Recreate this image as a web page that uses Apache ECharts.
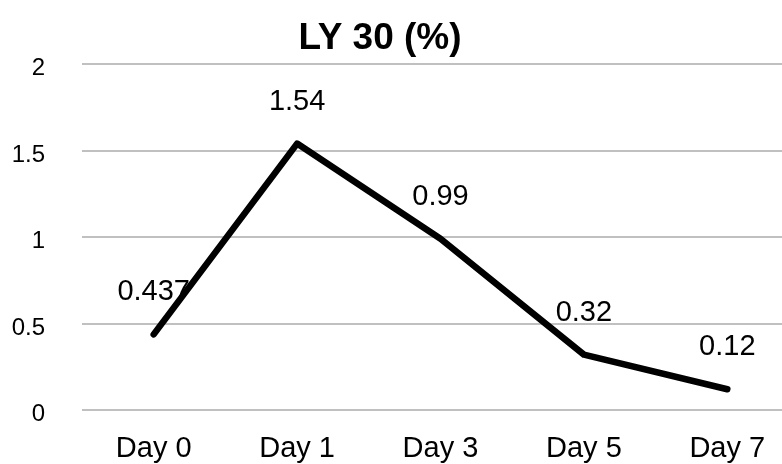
<!DOCTYPE html>
<html>
<head>
<meta charset="utf-8">
<title>LY 30 (%)</title>
<script src="https://cdn.jsdelivr.net/npm/echarts@6/dist/echarts.min.js"></script>
<style>
  html, body { margin: 0; padding: 0; background: #ffffff; overflow: hidden; }
  /* the plot runs a little past the right edge of the view */
  #chart { width: 800px; height: 464px; }
</style>
</head>
<body>
<div id="chart"></div>
<script>
// Time points and measured LY 30 percentages
const days = ['Day 0', 'Day 1', 'Day 3', 'Day 5', 'Day 7'];
const ly30 = [0.437, 1.54, 0.99, 0.32, 0.12];

// Value axis range
const yMin = 0;
const yMax = 2;
const yStep = 0.5;

const FONT = '"Liberation Sans", Arial, sans-serif';

const chart = echarts.init(document.getElementById('chart'), null, { renderer: 'canvas' });

chart.setOption({
  animation: false,
  backgroundColor: '#ffffff',
  title: {
    text: 'LY 30 (%)',
    left: 380,
    top: 20,
    textAlign: 'center',
    padding: 0,
    textStyle: {
      fontFamily: FONT,
      fontSize: 37,
      fontWeight: 'bold',
      color: '#000000'
    }
  },
  grid: {
    left: 82,
    right: 1,
    top: 64,
    bottom: 54,
    containLabel: false
  },
  xAxis: {
    type: 'category',
    data: days,
    boundaryGap: true,
    axisLine: { show: false },
    axisTick: { show: false },
    axisLabel: {
      margin: 24,
      fontFamily: FONT,
      fontSize: 29,
      color: '#000000'
    },
    splitLine: { show: false }
  },
  yAxis: {
    type: 'value',
    min: yMin,
    max: yMax,
    interval: yStep,
    axisLine: { show: false },
    axisTick: { show: false },
    axisLabel: {
      margin: 37,
      fontFamily: FONT,
      fontSize: 24,
      color: '#000000',
      verticalAlign: 'top',
      lineHeight: 9
    },
    splitLine: {
      show: true,
      lineStyle: { color: '#c0c0c0', width: 2 }
    }
  },
  series: [{
    type: 'line',
    data: ly30,
    symbol: 'circle',
    symbolSize: 1,
    showSymbol: true,
    itemStyle: { color: '#000000' },
    lineStyle: { color: '#000000', width: 6.5, cap: 'round', join: 'round' },
    label: {
      show: true,
      position: 'top',
      distance: 27,
      fontFamily: FONT,
      fontSize: 29,
      color: '#000000',
      formatter: p => String(p.value)
    }
  }]
});
</script>
</body>
</html>
